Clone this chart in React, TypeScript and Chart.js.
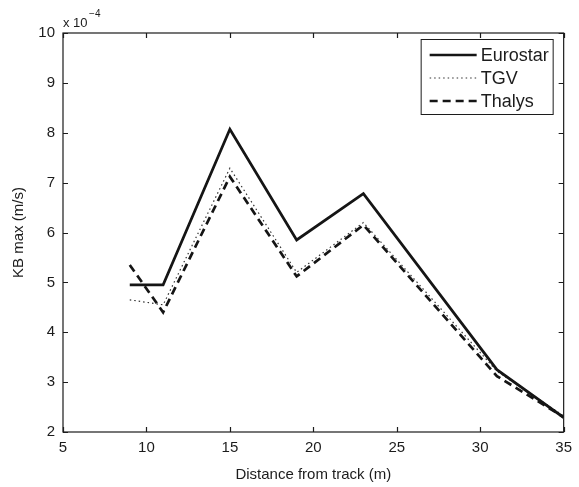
import React, { useEffect, useRef } from "react";
import { Chart, registerables } from "chart.js";

Chart.register(...registerables);

// Distance from track (m)
const distances = [9, 11, 15, 19, 23, 31, 35];
// KB max, in units of 1e-4 m/s
const eurostar = [4.95, 4.95, 8.07, 5.85, 6.78, 3.25, 2.29];
const tgv = [4.65, 4.55, 7.29, 5.2, 6.2, 3.22, 2.32];
const thalys = [5.35, 4.4, 7.12, 5.12, 6.15, 3.12, 2.3];
const seriesNames = ["Eurostar", "TGV", "Thalys"];
const xTicks = [5, 10, 15, 20, 25, 30, 35];
const yTicks = [2, 3, 4, 5, 6, 7, 8, 9, 10];

const FONT = "'Liberation Sans', Arial, Helvetica, sans-serif";
const INK = "#1c1c1c";

const toPoints = (ys: number[]) => distances.map((x, i) => ({ x, y: ys[i] }));

// Draws the MATLAB-style frame, inward ticks, exponent note and legend box
const framePlugin = {
  id: "frame",
  afterDraw(chart: any) {
    const { ctx, chartArea: a, scales } = chart;
    const xs = scales.x;
    const ys = scales.y;
    ctx.save();
    ctx.strokeStyle = INK;
    ctx.lineWidth = 1.2;
    ctx.setLineDash([]);
    ctx.strokeRect(a.left, a.top, a.right - a.left, a.bottom - a.top);

    const tl = 5;
    ctx.beginPath();
    xTicks.forEach((v) => {
      const px = Math.round(xs.getPixelForValue(v)) + 0.5;
      ctx.moveTo(px, a.bottom);
      ctx.lineTo(px, a.bottom - tl);
      ctx.moveTo(px, a.top);
      ctx.lineTo(px, a.top + tl);
    });
    yTicks.forEach((v) => {
      const py = Math.round(ys.getPixelForValue(v)) + 0.5;
      ctx.moveTo(a.left, py);
      ctx.lineTo(a.left + tl, py);
      ctx.moveTo(a.right, py);
      ctx.lineTo(a.right - tl, py);
    });
    ctx.stroke();

    // exponent note above the y axis
    ctx.fillStyle = INK;
    ctx.textBaseline = "alphabetic";
    ctx.textAlign = "left";
    ctx.font = `13px ${FONT}`;
    ctx.fillText("x 10", a.left, a.top - 6);
    const w = ctx.measureText("x 10").width;
    ctx.font = `10px ${FONT}`;
    ctx.fillText("\u22124", a.left + w + 1.5, a.top - 16);

    // legend
    const bw = 132;
    const bh = 75;
    const bx = a.right - 11 - bw;
    const by = a.top + 6;
    ctx.fillStyle = "#ffffff";
    ctx.fillRect(bx, by, bw, bh);
    ctx.lineWidth = 1;
    ctx.strokeStyle = INK;
    ctx.strokeRect(bx + 0.5, by + 0.5, bw, bh);
    const rows = [16, 39, 62];
    chart.data.datasets.forEach((ds: any, i: number) => {
      const ry = by + rows[i];
      ctx.beginPath();
      ctx.strokeStyle = ds.borderColor;
      ctx.lineWidth = ds.borderWidth;
      ctx.setLineDash(ds.borderDash || []);
      ctx.moveTo(bx + 9, ry);
      ctx.lineTo(bx + 56, ry);
      ctx.stroke();
      ctx.setLineDash([]);
      ctx.fillStyle = INK;
      ctx.font = `18px ${FONT}`;
      ctx.textBaseline = "middle";
      ctx.fillText(ds.label, bx + 60, ry + 1);
    });
    ctx.restore();
  },
};

export default function App() {
  const canvasRef = useRef<HTMLCanvasElement | null>(null);

  useEffect(() => {
    const canvas = canvasRef.current;
    if (!canvas) return;
    const chart = new Chart(canvas, {
      type: "line",
      data: {
        datasets: [
          {
            label: seriesNames[0],
            data: toPoints(eurostar),
            borderColor: "#151515",
            borderWidth: 2.7,
            pointRadius: 0,
            tension: 0,
          },
          {
            label: seriesNames[1],
            data: toPoints(tgv),
            borderColor: "#333333",
            borderWidth: 1.2,
            borderDash: [1.5, 3],
            pointRadius: 0,
            tension: 0,
          },
          {
            label: seriesNames[2],
            data: toPoints(thalys),
            borderColor: "#151515",
            borderWidth: 2.7,
            borderDash: [8, 5],
            pointRadius: 0,
            tension: 0,
          },
        ],
      },
      options: {
        responsive: false,
        animation: false,
        devicePixelRatio: 1,
        layout: { padding: { top: 33, right: 10, left: 0, bottom: 0 } },
        plugins: {
          legend: { display: false },
          tooltip: { enabled: false },
        },
        scales: {
          x: {
            type: "linear",
            min: 5,
            max: 35,
            afterBuildTicks: (s: any) => {
              s.ticks = xTicks.map((v) => ({ value: v }));
            },
            afterFit: (s: any) => {
              s.height = 55;
            },
            grid: { display: false, drawTicks: false },
            border: { display: false },
            ticks: {
              padding: 7,
              color: INK,
              font: { family: FONT, size: 15 },
              maxRotation: 0,
            },
            title: {
              display: true,
              text: "Distance from track (m)",
              color: INK,
              font: { family: FONT, size: 15 },
              padding: { top: 0, bottom: 3 },
            },
          },
          y: {
            type: "linear",
            min: 2,
            max: 10,
            afterBuildTicks: (s: any) => {
              s.ticks = yTicks.map((v) => ({ value: v }));
            },
            afterFit: (s: any) => {
              s.width = 63;
            },
            grid: { display: false, drawTicks: false },
            border: { display: false },
            ticks: {
              padding: 8,
              color: INK,
              font: { family: FONT, size: 15 },
            },
            title: {
              display: true,
              text: "KB max (m/s)",
              color: INK,
              font: { family: FONT, size: 15 },
              padding: { top: 10, bottom: 0 },
            },
          },
        },
      },
      plugins: [framePlugin],
    });
    return () => chart.destroy();
  }, []);

  return (
    <div
      style={{
        position: "absolute",
        left: 0,
        top: 0,
        width: 579,
        height: 487,
        background: "#ffffff",
      }}
    >
      <canvas ref={canvasRef} width={579} height={487} />
    </div>
  );
}
